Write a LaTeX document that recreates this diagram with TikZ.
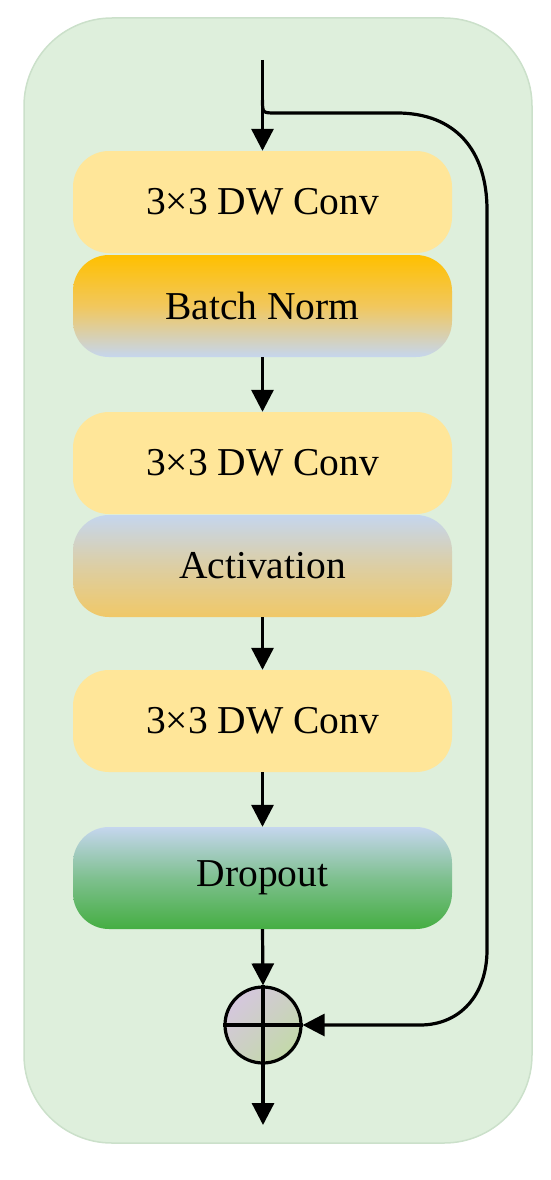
\documentclass[tikz,border=0pt]{standalone}
\usepackage{fontspec}
\setmainfont{Liberation Serif}
\usetikzlibrary{arrows.meta,positioning}
\definecolor{bgfill}{HTML}{DEEFDC}
\definecolor{bgline}{HTML}{CBE0CA}
\definecolor{convy}{HTML}{FFE699}
\definecolor{bnorm}{HTML}{FFC000}
\definecolor{lblue}{HTML}{C5D6EE}
\definecolor{actbot}{HTML}{F0C867}
\definecolor{dgreen}{HTML}{45AE42}
\definecolor{lav}{HTML}{D5C7DE}
\definecolor{sgreen}{HTML}{C3D9A9}
\begin{document}
\begin{tikzpicture}[x=1pt,y=-1pt,
  blk/.style={minimum width=379pt,minimum height=102pt,rounded corners=36pt,inner sep=0pt,
     font=\fontsize{39.5}{44}\selectfont, text=black},
  conv/.style={blk,fill=convy},
  arr/.style={line width=3.2pt,-{Triangle[length=22pt,width=22pt]}},
  ln/.style={line width=3.2pt}]
\useasboundingbox (0,0) rectangle (550,1180);
\draw[fill=bgfill,draw=bgline,line width=1.5pt,rounded corners=88pt] (24,18) rectangle (532,1143);
\node[conv] (c1) at (262.5,202) {3×3 DW Conv};
\node[blk,top color=bnorm,bottom color=lblue,middle color=actbot!90!bnorm] (bn) at (262.5,306) {Batch Norm};
\node[conv] (c2) at (262.5,463) {3×3 DW Conv};
\node[blk,top color=lblue,bottom color=actbot,middle color=lblue!45!actbot] (act) at (262.5,566) {Activation};
\node[conv] (c3) at (262.5,721) {3×3 DW Conv};
\node[blk,top color=lblue,bottom color=dgreen,middle color=lblue!45!dgreen] (dp) at (262.5,878) {Dropout};
\node[circle,minimum size=76pt,inner sep=0pt,line width=3.2pt,draw=black,
  shading=axis,top color=lav,bottom color=sgreen,shading angle=45] (sum) at (263,1025) {};
\draw[ln] (sum.north) -- (sum.south);
\draw[ln] (sum.west) -- (sum.east);
\coordinate (in) at (262.5,60);
\coordinate (br) at (262.5,100);
\coordinate (out) at (263,1125);
\draw[arr] (in) -- (c1.north);
\draw[arr] (bn.south) -- (c2.north);
\draw[arr] (act.south) -- (c3.north);
\draw[arr] (c3.south) -- (dp.north);
\draw[arr] (dp.south) -- (sum.north);
\draw[arr] (sum.south) -- (out);
\draw[arr] (br) .. controls (262.5,113) .. (276,113) -- (397,113)
  .. controls (455,113) and (487,150) .. (487,210) -- (487,950)
  .. controls (487,995) and (460,1025) .. (420,1025) -- (sum.east);
\end{tikzpicture}
\end{document}
